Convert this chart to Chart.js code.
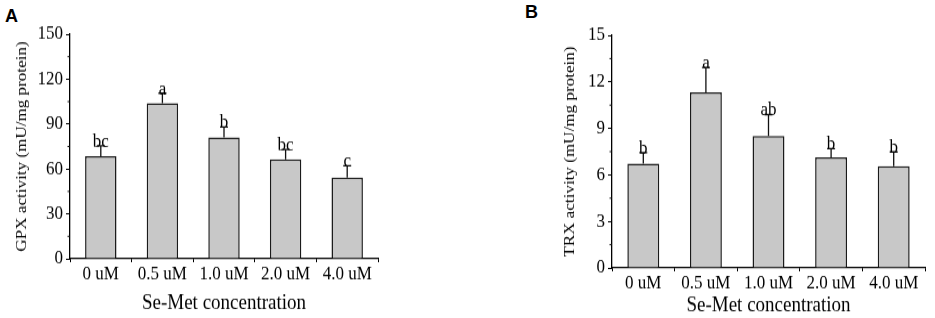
<!DOCTYPE html>
<html>
<head>
<meta charset="utf-8">
<script src="https://cdn.jsdelivr.net/npm/chart.js@4/dist/chart.umd.min.js"></script>
<style>
  html,body{margin:0;padding:0;background:#fff;}
  #wrap{position:relative;width:935px;height:318px;overflow:hidden;}
  .panel{position:absolute;top:0;height:318px;}
  .panel canvas{transform:scaleY(1.14);transform-origin:0 0;}
  .lbl{position:absolute;font-family:"Liberation Sans",Arial,sans-serif;font-weight:bold;font-size:18px;color:#000;}
</style>
</head>
<body>
<div id="wrap">
  <div class="lbl" style="left:5px;top:6px;">A</div>
  <div class="lbl" style="left:525px;top:2px;">B</div>
  <div class="panel" style="left:0;width:470px;"><canvas id="cA"></canvas></div>
  <div class="panel" style="left:470px;width:465px;"><canvas id="cB"></canvas></div>
</div>
<script>
const categories=['0 uM','0.5 uM','1.0 uM','2.0 uM','4.0 uM'];

const gpxValues=[68.5,104,81,66.5,54.2];
const gpxErrors=[7,6.6,7,6.5,8];
const gpxLetters=['bc','a','b','bc','c'];

const trxValues=[6.73,11.33,8.52,7.14,6.56];
const trxErrors=[0.7,1.6,1.37,0.56,0.92];
const trxLetters=['b','a','ab','b','b'];

const serif='"Liberation Serif","Times New Roman",serif';

// error bars, significance letters and minor y ticks
const annot={
  id:'annot',
  afterDatasetsDraw(chart,args,o){
    const {ctx,scales:{x,y}}=chart;
    ctx.save();
    ctx.strokeStyle='#111';ctx.lineWidth=1.3;
    ctx.fillStyle='#000';
    ctx.font='17px '+serif;
    ctx.textAlign='center';ctx.textBaseline='alphabetic';
    o.values.forEach((v,i)=>{
      const px=x.getPixelForValue(i);
      const y0=y.getPixelForValue(v);
      const y1=y.getPixelForValue(v+o.errors[i]);
      ctx.beginPath();
      ctx.moveTo(px,y0);ctx.lineTo(px,y1);
      ctx.moveTo(px-4,y1);ctx.lineTo(px+4,y1);
      ctx.stroke();
      ctx.fillText(o.letters[i],px,y1+1);
    });
    // minor ticks
    ctx.lineWidth=1;
    ctx.beginPath();
    for(let t=o.minor/2;t<y.max;t+=o.minor){
      const py=y.getPixelForValue(t);
      ctx.moveTo(x.left,py);ctx.lineTo(x.left-2.5,py);
    }
    ctx.stroke();
    ctx.restore();
  }
};

function makeChart(id,values,errors,letters,opts){
  return new Chart(document.getElementById(id),{
    type:'bar',
    data:{labels:categories,datasets:[{
      data:values,
      backgroundColor:'#c8c8c8',
      borderColor:'#1a1a1a',
      borderWidth:1.5,
      barPercentage:0.51,
      categoryPercentage:1
    }]},
    plugins:[annot],
    options:{
      responsive:false,animation:false,
      devicePixelRatio:1,
      layout:{padding:opts.padding},
      plugins:{legend:{display:false},tooltip:{enabled:false},
        annot:{values:values,errors:errors,letters:letters,minor:opts.step}},
      scales:{
        x:{
          grid:{display:true,drawOnChartArea:false,drawTicks:true,tickLength:3,color:'#000',offset:true},
          border:{display:true,color:'#000',width:1.2},
          ticks:{color:'#000',font:{family:serif,size:17},padding:0,maxRotation:0,autoSkip:false},
          title:{display:true,text:'Se-Met concentration',color:'#000',font:{family:serif,size:19},padding:{top:0,bottom:opts.xTitlePad}},
          afterFit(s){s.height=opts.xHeight;}
        },
        y:{
          min:0,max:opts.max,
          grid:{display:true,drawOnChartArea:false,drawTicks:true,tickLength:4,color:'#000'},
          border:{display:true,color:'#000',width:1.3},
          ticks:{color:'#000',stepSize:opts.step,font:{family:serif,size:17},padding:3},
          title:{display:true,text:opts.yTitle,color:'#000',font:{family:serif,size:15},padding:0},
          afterFit(s){s.width=opts.yWidth;}
        }
      }
    }
  });
}

const H=279;
const cA=document.getElementById('cA');cA.width=470;cA.height=H;
const cB=document.getElementById('cB');cB.width=465;cB.height=H;

makeChart('cA',gpxValues,gpxErrors,gpxLetters,{
  max:150,step:30,yTitle:'GPX activity (mU/mg protein)',
  padding:{left:13,right:92,top:30,bottom:0},yWidth:57,xHeight:52,xTitlePad:2
});
makeChart('cB',trxValues,trxErrors,trxLetters,{
  max:15,step:3,yTitle:'TRX activity (mU/mg protein)',
  padding:{left:91,right:10,top:31,bottom:0},yWidth:51,xHeight:44,xTitlePad:0
});
</script>
</body>
</html>
